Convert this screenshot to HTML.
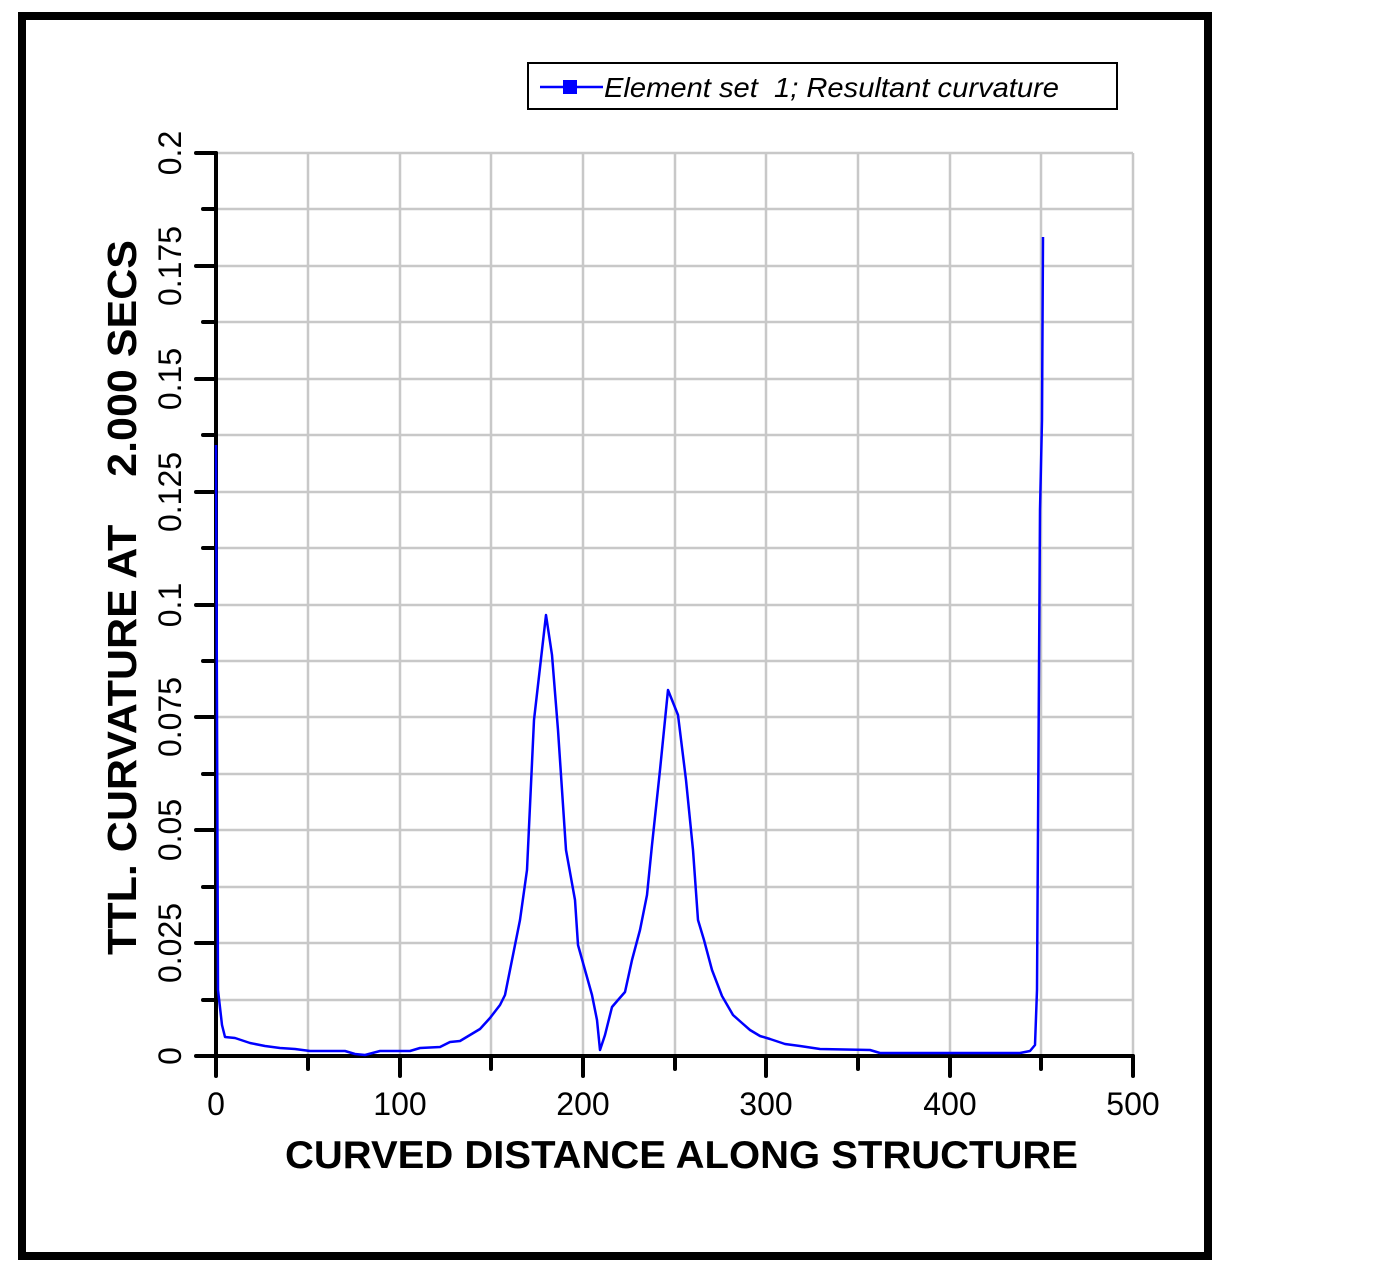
<!DOCTYPE html>
<html><head><style>body{margin:0;background:#fff}</style></head><body>
<svg width="1381" height="1271" xmlns="http://www.w3.org/2000/svg" font-family="Liberation Sans, Arial, sans-serif">
<rect x="22" y="16" width="1186" height="1240" fill="none" stroke="#000" stroke-width="8"/>
<g stroke="#c8c8c8" stroke-width="2.5">
<line x1="216" y1="153" x2="1133" y2="153"/><line x1="216" y1="209" x2="1133" y2="209"/><line x1="216" y1="266" x2="1133" y2="266"/><line x1="216" y1="322" x2="1133" y2="322"/><line x1="216" y1="379" x2="1133" y2="379"/><line x1="216" y1="435" x2="1133" y2="435"/><line x1="216" y1="492" x2="1133" y2="492"/><line x1="216" y1="548" x2="1133" y2="548"/><line x1="216" y1="605" x2="1133" y2="605"/><line x1="216" y1="661" x2="1133" y2="661"/><line x1="216" y1="717" x2="1133" y2="717"/><line x1="216" y1="774" x2="1133" y2="774"/><line x1="216" y1="830" x2="1133" y2="830"/><line x1="216" y1="887" x2="1133" y2="887"/><line x1="216" y1="943" x2="1133" y2="943"/><line x1="216" y1="1000" x2="1133" y2="1000"/>
<line x1="308" y1="153" x2="308" y2="1056"/><line x1="400" y1="153" x2="400" y2="1056"/><line x1="491" y1="153" x2="491" y2="1056"/><line x1="583" y1="153" x2="583" y2="1056"/><line x1="675" y1="153" x2="675" y2="1056"/><line x1="766" y1="153" x2="766" y2="1056"/><line x1="858" y1="153" x2="858" y2="1056"/><line x1="950" y1="153" x2="950" y2="1056"/><line x1="1041" y1="153" x2="1041" y2="1056"/><line x1="1133" y1="153" x2="1133" y2="1056"/>
</g>
<g stroke="#000" stroke-width="4" stroke-linecap="round">
<line x1="216" y1="153" x2="216" y2="1058"/><line x1="214" y1="1056" x2="1133" y2="1056"/>
<line x1="196" y1="153" x2="216" y2="153"/><line x1="203" y1="209" x2="216" y2="209"/><line x1="196" y1="266" x2="216" y2="266"/><line x1="203" y1="322" x2="216" y2="322"/><line x1="196" y1="379" x2="216" y2="379"/><line x1="203" y1="435" x2="216" y2="435"/><line x1="196" y1="492" x2="216" y2="492"/><line x1="203" y1="548" x2="216" y2="548"/><line x1="196" y1="605" x2="216" y2="605"/><line x1="203" y1="661" x2="216" y2="661"/><line x1="196" y1="717" x2="216" y2="717"/><line x1="203" y1="774" x2="216" y2="774"/><line x1="196" y1="830" x2="216" y2="830"/><line x1="203" y1="887" x2="216" y2="887"/><line x1="196" y1="943" x2="216" y2="943"/><line x1="203" y1="1000" x2="216" y2="1000"/><line x1="196" y1="1056" x2="216" y2="1056"/>
<line x1="216" y1="1056" x2="216" y2="1076"/><line x1="308" y1="1056" x2="308" y2="1069"/><line x1="400" y1="1056" x2="400" y2="1076"/><line x1="491" y1="1056" x2="491" y2="1069"/><line x1="583" y1="1056" x2="583" y2="1076"/><line x1="675" y1="1056" x2="675" y2="1069"/><line x1="766" y1="1056" x2="766" y2="1076"/><line x1="858" y1="1056" x2="858" y2="1069"/><line x1="950" y1="1056" x2="950" y2="1076"/><line x1="1041" y1="1056" x2="1041" y2="1069"/><line x1="1133" y1="1056" x2="1133" y2="1076"/>
</g>
<g font-size="32" text-anchor="middle">
<text x="216" y="1115">0</text><text x="400" y="1115">100</text><text x="583" y="1115">200</text><text x="766" y="1115">300</text><text x="950" y="1115">400</text><text x="1133" y="1115">500</text>
</g>
<g font-size="32" text-anchor="middle">
<text transform="translate(181,153) rotate(-90)">0.2</text><text transform="translate(181,266) rotate(-90)">0.175</text><text transform="translate(181,379) rotate(-90)">0.15</text><text transform="translate(181,492) rotate(-90)">0.125</text><text transform="translate(181,605) rotate(-90)">0.1</text><text transform="translate(181,717) rotate(-90)">0.075</text><text transform="translate(181,830) rotate(-90)">0.05</text><text transform="translate(181,943) rotate(-90)">0.025</text><text transform="translate(181,1056) rotate(-90)">0</text>
</g>
<text x="285" y="1168" font-size="39" font-weight="bold" textLength="793" lengthAdjust="spacingAndGlyphs">CURVED DISTANCE ALONG STRUCTURE</text>
<text transform="translate(136,955) rotate(-90)" font-size="41" font-weight="bold" xml:space="preserve" textLength="715" lengthAdjust="spacingAndGlyphs">TTL. CURVATURE AT    2.000 SECS</text>
<polyline fill="none" stroke="#0000ff" stroke-width="2.5" stroke-linejoin="round" points="216,445 218,990 222,1025 225,1037 235,1038 250,1043 265,1046 280,1048 295,1049 310,1051 345,1051 355,1054 365,1055 380,1051 410,1051 420,1048 440,1047 450,1042 460,1041 470,1035 480,1029 490,1018 500,1005 505,995 512,960 520,920 527,870 534,720 546,615 552,655 558,730 566,850 575,900 578,945 585,970 592,995 597,1020 600,1050 605,1035 612,1007 618,1000 625,992 632,960 640,930 647,895 652,845 660,770 668,690 672,700 678,715 686,780 693,850 698,920 704,940 712,970 722,996 733,1015 742,1023 750,1030 760,1036 770,1039 785,1044 800,1046 820,1049 870,1050 880,1053 1020,1053 1030,1051 1035,1045 1037,990 1040,510 1042,420 1043,237"/>
<rect x="528" y="63" width="589" height="46" fill="#fff" stroke="#000" stroke-width="2"/>
<line x1="540" y1="87" x2="603" y2="87" stroke="#0000ff" stroke-width="2.5"/>
<rect x="563" y="80" width="14" height="14" fill="#0000ff"/>
<text x="604" y="97" font-size="28" font-style="italic" xml:space="preserve" textLength="455" lengthAdjust="spacingAndGlyphs">Element set  1; Resultant curvature</text>
</svg>
</body></html>
